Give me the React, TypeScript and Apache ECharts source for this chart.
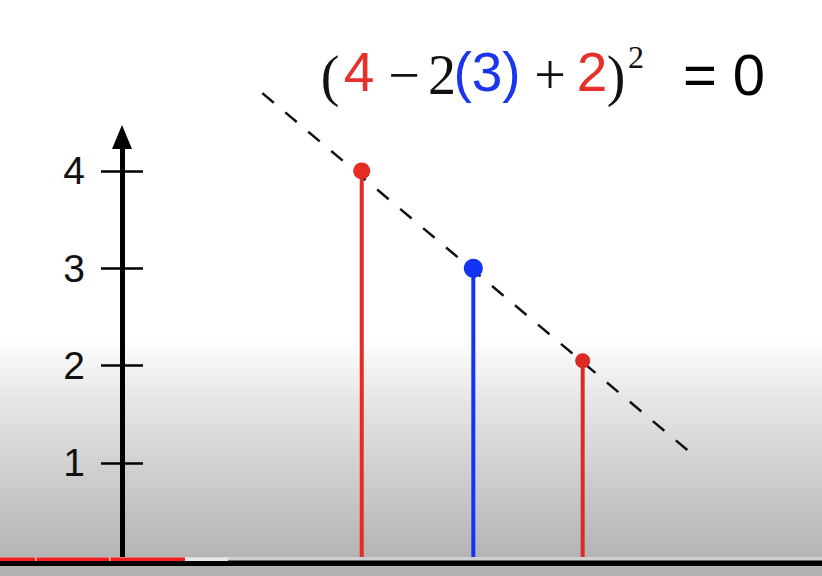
import React, { useEffect, useRef } from "react";
import * as echarts from "echarts";

// ---- data ----
const stemX = [2.17, 3.18, 4.17];
const stemY = [4, 3, 2.05];
const stemColors = ["#e42c25", "#1533f2", "#dc2b25"];
const dotSizes = [17, 19, 15];
const dashX = [1.27, 5.12];
const dashY = [4.8, 1.13];
const yTicks = [1, 2, 3, 4];
const yMin = 0;
const yMax = 4.35;
const xMin = 0;
const xMax = 6.3;
const titleTokens = ["(", "4", "\u2212", "2", "(3)", "+", "2", ")", "2", "= 0"];

const RED = "#e8302a";
const BLUE = "#1a35f0";
const SERIF = "Liberation Serif";
const SANS = "Liberation Sans";

function tokenStyle(i: number) {
  // [centerX, centerY, size, family, color]
  const layout: [number, number, number, string, string][] = [
    [330, 76, 56, SERIF, "#111"],
    [359, 72, 55, SANS, RED],
    [404, 75, 56, SERIF, "#111"],
    [442, 75, 56, SERIF, "#111"],
    [487, 72, 55, SANS, BLUE],
    [550, 75, 56, SERIF, "#111"],
    [592, 72, 55, SANS, RED],
    [616, 76, 56, SERIF, "#111"],
    [636, 57, 32, SERIF, "#111"],
    [724, 74, 58, SANS, "#000"],
  ];
  return layout[i];
}

export default function App() {
  const ref = useRef<HTMLDivElement>(null);
  useEffect(() => {
    if (!ref.current) return;
    const chart = echarts.init(ref.current, null, { renderer: "svg" });

    const titleGraphics = titleTokens.map((t, i) => {
      const [cx, cy, size, fam, color] = tokenStyle(i);
      return {
        type: "text",
        x: cx,
        y: cy,
        z: 50,
        style: {
          text: t,
          fill: color,
          fontSize: size,
          fontFamily: fam,
          align: "center",
          verticalAlign: "middle",
        },
      };
    });

    const bottomGraphics = [
      { type: "rect", z: 100, shape: { x: 0, y: 557, width: 822, height: 4 }, style: { fill: "#cfcfcf" } },
      { type: "rect", z: 101, shape: { x: 0, y: 557.5, width: 185, height: 3.5 }, style: { fill: "#f41c1c" } },
      { type: "rect", z: 102, shape: { x: 35, y: 557.5, width: 1.5, height: 3.5 }, style: { fill: "#d8d8d8" } },
      { type: "rect", z: 102, shape: { x: 109, y: 557.5, width: 1.5, height: 3.5 }, style: { fill: "#d8d8d8" } },
      { type: "rect", z: 101, shape: { x: 185, y: 557.5, width: 43, height: 3.5 }, style: { fill: "#e8e8e8" } },
      { type: "rect", z: 100, shape: { x: 0, y: 560.5, width: 822, height: 5.5 }, style: { fill: "#000" } },
      { type: "rect", z: 100, shape: { x: 0, y: 566, width: 822, height: 10 }, style: { fill: "#b2b2b2" } },
    ];

    const option: any = {
      animation: false,
      backgroundColor: new echarts.graphic.LinearGradient(0, 0, 0, 1, [
        { offset: 0, color: "#ffffff" },
        { offset: 338 / 576, color: "#ffffff" },
        { offset: 400 / 576, color: "#e6e6e6" },
        { offset: 557 / 576, color: "#b4b4b4" },
        { offset: 1, color: "#b0b0b0" },
      ]),
      grid: { left: 122, right: 4, top: 136.9, bottom: 15.7, containLabel: false },
      xAxis: {
        type: "value",
        min: xMin,
        max: xMax,
        show: false,
      },
      yAxis: [
        {
          type: "value",
          position: "left",
          min: yMin,
          max: yMax,
          axisLine: {
            show: true,
            onZero: false,
            symbol: ["none", "triangle"],
            symbolSize: [20, 24],
            lineStyle: { color: "#000", width: 5 },
          },
          axisTick: {
            show: true,
            inside: false,
            length: 21,
            customValues: yTicks,
            lineStyle: { color: "#000", width: 2.5 },
          },
          axisLabel: {
            show: true,
            customValues: yTicks,
            fontSize: 39,
            fontFamily: SANS,
            color: "#111",
            margin: 37,
          },
          splitLine: { show: false },
        },
        {
          type: "value",
          position: "left",
          min: yMin,
          max: yMax,
          axisLine: { show: false, onZero: false },
          axisTick: {
            show: true,
            inside: true,
            length: 21,
            customValues: yTicks,
            lineStyle: { color: "#000", width: 2.5 },
          },
          axisLabel: { show: false },
          splitLine: { show: false },
        },
      ],
      series: [
        {
          type: "bar",
          barWidth: 4,
          z: 3,
          data: stemX.map((x, i) => ({
            value: [x, stemY[i]],
            itemStyle: { color: stemColors[i] },
          })),
        },
        {
          type: "line",
          z: 4,
          clip: false,
          symbol: "none",
          data: dashX.map((x, i) => [x, dashY[i]]),
          lineStyle: { color: "#111", width: 2.5, type: [15, 15] },
        },
        {
          type: "scatter",
          z: 5,
          data: stemX.map((x, i) => ({
            value: [x, stemY[i]],
            symbolSize: dotSizes[i],
            itemStyle: { color: stemColors[i], opacity: 1 },
          })),
        },
      ],
      graphic: [...titleGraphics, ...bottomGraphics],
    };
    chart.setOption(option);
    return () => chart.dispose();
  }, []);

  return (
    <div
      ref={ref}
      style={{ position: "fixed", left: 0, top: 0, width: 822, height: 576 }}
    />
  );
}
